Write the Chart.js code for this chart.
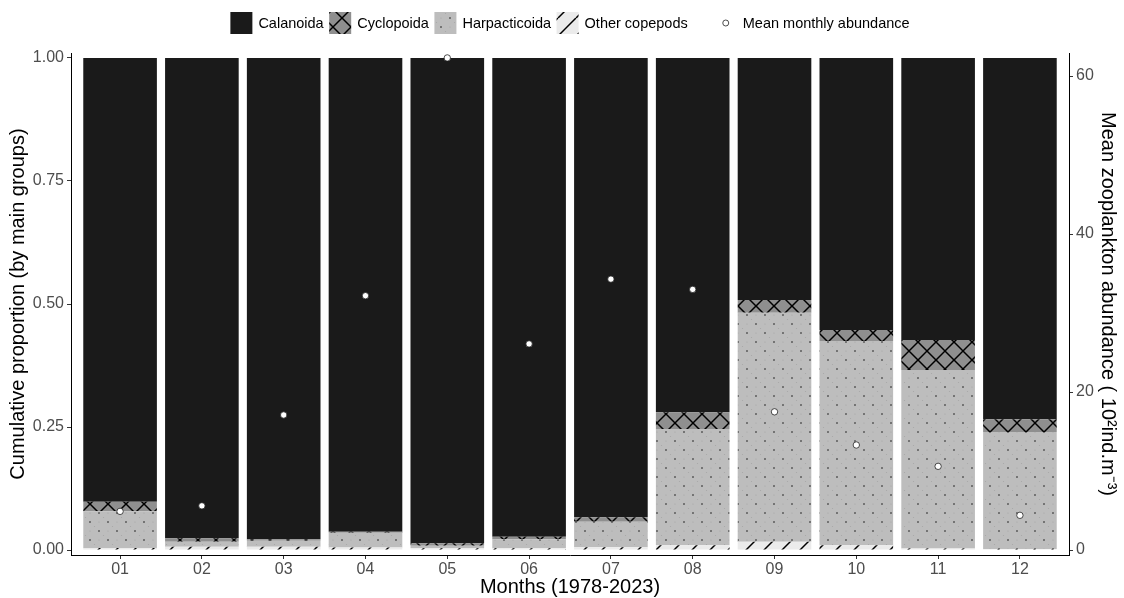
<!DOCTYPE html>
<html><head><meta charset="utf-8">
<script src="https://cdn.jsdelivr.net/npm/chart.js@4.4.0/dist/chart.umd.min.js"></script>
<style>html,body{margin:0;padding:0;background:#fff}#wrap{width:1124px;height:598px;position:relative}</style>
</head><body><div id="wrap"><canvas id="c" width="1124" height="598"></canvas></div>
<script>
const months = ["01","02","03","04","05","06","07","08","09","10","11","12"];
const otherCopepods = [0.004,0.007,0.007,0.005,0.0035,0.0035,0.0055,0.010,0.017,0.010,0.003,0.002];
const harpacticoida = [0.075,0.010,0.012,0.030,0.0055,0.0185,0.052,0.236,0.465,0.415,0.363,0.238];
const cyclopoida    = [0.019,0.007,0.003,0.002,0.005,0.005,0.009,0.034,0.026,0.022,0.061,0.026];
const calanoida     = [0.902,0.976,0.978,0.963,0.986,0.973,0.9335,0.720,0.492,0.553,0.573,0.734];
const meanAbundance = [4.9,5.6,17.1,32.2,62.3,26.1,34.3,33.0,17.5,13.3,10.6,4.4];
const leftTicks = [0,0.25,0.5,0.75,1];
const leftTickLabels = ["0.00","0.25","0.50","0.75","1.00"];
const rightTicks = [0,20,40,60];
const rightTickLabels = ["0","20","40","60"];

const FONT = '"Liberation Sans", Arial, Helvetica, sans-serif';
const canvas = document.getElementById('c');
const mainCtx = canvas.getContext('2d');

function makePattern(size, bg, draw){
  const c = document.createElement('canvas');
  c.width = size; c.height = size;
  const g = c.getContext('2d');
  g.fillStyle = bg; g.fillRect(0,0,size,size);
  draw(g, size);
  return mainCtx.createPattern(c, 'repeat');
}
const calPattern = '#1a1a1a';
const cycPattern = makePattern(18, '#8f8f8f', (g,s)=>{
  g.strokeStyle = '#000'; g.lineWidth = 1.5;
  for (let k=-1;k<=1;k++){
    g.beginPath(); g.moveTo(k*s,0); g.lineTo(k*s+s,s); g.stroke();
    g.beginPath(); g.moveTo(k*s,s); g.lineTo(k*s+s,0); g.stroke();
  }
});
const harpPattern = makePattern(18, '#bdbdbd', (g,s)=>{
  g.fillStyle = '#555';
  [[0,0],[9,9],[18,0],[0,18],[18,18]].forEach(([x,y])=>{g.beginPath();g.arc(x,y,0.95,0,Math.PI*2);g.fill();});
  g.fillStyle = '#a6a6a6';
  [[9,0],[0,9],[18,9],[9,18],[4.5,4.5],[13.5,13.5]].forEach(([x,y])=>{g.beginPath();g.arc(x,y,0.6,0,Math.PI*2);g.fill();});
});
const otherPattern = makePattern(18, '#ebebeb', (g,s)=>{
  g.strokeStyle = '#000'; g.lineWidth = 1.5;
  for (let k=-1;k<=1;k++){
    g.beginPath(); g.moveTo(k*s,s); g.lineTo(k*s+s,0); g.stroke();
  }
});

const S = Math.max(...meanAbundance);
const xy = (arr) => arr.map((v,i)=>({x:i+1, y:v}));

const legendPlugin = {
  id: 'customLegend',
  afterDraw(chart){
    const ctx = chart.ctx;
    const bars = chart.data.datasets.filter(d=>d.type==='bar').slice().reverse();
    const pts = chart.data.datasets.filter(d=>d.type==='scatter');
    ctx.save();
    ctx.font = '14.5px ' + FONT;
    const box = 22, tgap = 6, igap = 5.5, ptGap = 38, ptText = 17;
    let total = 0;
    bars.forEach((d,i)=>{ total += box + tgap + ctx.measureText(d.label).width + (i<bars.length-1?igap:0); });
    pts.forEach(d=>{ total += ptGap + ptText + ctx.measureText(d.label).width; });
    const ca = chart.chartArea;
    let x = (ca.left + ca.right)/2 - total/2;
    const yc = 23;
    ctx.textBaseline = 'middle'; ctx.textAlign = 'left';
    bars.forEach((d,i)=>{
      ctx.fillStyle = d.backgroundColor;
      ctx.fillRect(x, yc-box/2, box, box);
      ctx.fillStyle = '#000';
      ctx.fillText(d.label, x+box+tgap, yc+0.5);
      x += box + tgap + ctx.measureText(d.label).width + (i<bars.length-1?igap:0);
    });
    pts.forEach(d=>{
      const cx = x + ptGap;
      ctx.beginPath(); ctx.arc(cx, yc, 3, 0, Math.PI*2);
      ctx.fillStyle = '#fff'; ctx.fill();
      ctx.lineWidth = 0.8; ctx.strokeStyle = '#222'; ctx.stroke();
      ctx.fillStyle = '#000';
      ctx.fillText(d.label, cx + ptText, yc+0.5);
    });
    ctx.restore();
  }
};

const tickFont = {family: FONT, size: 16};
const titleFont = {family: FONT, size: 20};

new Chart(canvas, {
  data: {
    datasets: [
      {type:'scatter', label:'Mean monthly abundance', data: xy(meanAbundance), yAxisID:'y1', xAxisID:'x',
       order: 0, pointRadius: 3.2, pointHoverRadius: 3.2, pointBackgroundColor:'#fff', pointBorderColor:'#222', pointBorderWidth: 0.8},
      {type:'bar', label:'Other copepods', data: xy(otherCopepods), backgroundColor: otherPattern, yAxisID:'y', order:1},
      {type:'bar', label:'Harpacticoida', data: xy(harpacticoida), backgroundColor: harpPattern, yAxisID:'y', order:1},
      {type:'bar', label:'Cyclopoida', data: xy(cyclopoida), backgroundColor: cycPattern, yAxisID:'y', order:1},
      {type:'bar', label:'Calanoida', data: xy(calanoida), backgroundColor: calPattern, yAxisID:'y', order:1}
    ]
  },
  options: {
    responsive: false, animation: false, devicePixelRatio: 1,
    layout: {padding: {top: 53, left: 0, right: 0, bottom: 0}},
    datasets: {bar: {categoryPercentage: 1, barPercentage: 0.9, borderWidth: 0}},
    plugins: {legend: {display:false}, tooltip: {enabled:false}},
    scales: {
      x: {
        type:'linear', min: 0.4, max: 12.6, stacked: true, offset: false,
        afterBuildTicks: s => { s.ticks = months.map((m,i)=>({value:i+1})); },
        afterFit: s => { s.height = 43; },
        ticks: {callback: (v,i)=>months[i], font: tickFont, color:'#4d4d4d', padding: 1, maxRotation:0, autoSkip:false},
        grid: {display:true, offset:false, drawOnChartArea:false, drawTicks:true, tickLength:4, color:'#333', lineWidth:1},
        border: {display:true, color:'#000', width:1},
        title: {display:true, text:'Months (1978-2023)', font: titleFont, color:'#000', padding:{top:0,bottom:-1}}
      },
      y: {
        type:'linear', position:'left', stacked: true, min: -0.01, max: 1.01,
        afterBuildTicks: s => { s.ticks = leftTicks.map(v=>({value:v})); },
        afterFit: s => { s.width = 71; },
        ticks: {callback: (v,i)=>leftTickLabels[i], font: tickFont, color:'#4d4d4d', padding: 3},
        grid: {display:true, drawOnChartArea:false, drawTicks:true, tickLength:4, color:'#333', lineWidth:1},
        border: {display:true, color:'#000', width:1},
        title: {display:true, text:'Cumulative proportion (by main groups)', font: titleFont, color:'#000', padding:{top:6,bottom:0}}
      },
      y1: {
        type:'linear', position:'right', min: -0.01*S, max: 1.01*S,
        afterBuildTicks: s => { s.ticks = rightTicks.map(v=>({value:v})); },
        afterFit: s => { s.width = 55; },
        ticks: {callback: (v,i)=>rightTickLabels[i], font: tickFont, color:'#4d4d4d', padding: 3},
        grid: {display:true, drawOnChartArea:false, drawTicks:true, tickLength:4, color:'#333', lineWidth:1},
        border: {display:true, color:'#000', width:1},
        title: {display:true, text:'Mean zooplankton abundance ( 10²ind.m⁻³)', font: titleFont, color:'#000', padding:{top:4,bottom:0}}
      }
    }
  },
  plugins: [legendPlugin]
});
</script>
</body></html>
